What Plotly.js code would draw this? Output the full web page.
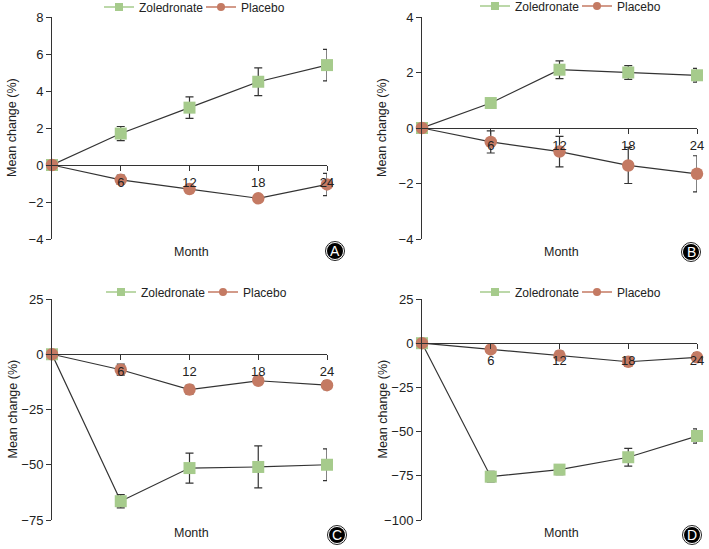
<!DOCTYPE html>
<html>
<head>
<meta charset="utf-8">
<script src="https://cdn.plot.ly/plotly-3.0.1.min.js"></script>
<style>html,body{margin:0;padding:0;background:#fff;}#chart{width:709px;height:549px;}</style>
</head>
<body>
<div id="chart"></div>
<script>
// ---------- data ----------
const months = [0, 6, 12, 18, 24];
const monthTicks = [6, 12, 18, 24];
const seriesNames = ['Zoledronate', 'Placebo'];
const panelLetters = ['A', 'B', 'C', 'D'];

// Panel A
const zolA = [0, 1.7, 3.1, 4.5, 5.4];
const zolAErr = [0, 0.38, 0.58, 0.75, 0.85];
const plaA = [0, -0.8, -1.3, -1.8, -1.05];
const plaAErr = [0, 0.25, 0.2, 0.15, 0.6];
// Panel B
const zolB = [0, 0.9, 2.1, 2.0, 1.9];
const zolBErr = [0, 0.15, 0.32, 0.25, 0.25];
const plaB = [0, -0.5, -0.85, -1.35, -1.65];
const plaBErr = [0, 0.4, 0.55, 0.65, 0.65];
// Panel C
const zolC = [0, -66.5, -51.5, -51, -50];
const zolCErr = [0, 3, 6.8, 9.5, 7.2];
const plaC = [0, -7, -16, -12, -14];
const plaCErr = [0, 2.5, 2, 1.5, 2];
// Panel D
const zolD = [0, -75.5, -71.5, -64.5, -52.5];
const zolDErr = [0, 3, 2.8, 5, 4];
const plaD = [0, -3.5, -7, -10.5, -8];
const plaDErr = [0, 1.5, 2.5, 2.5, 2.5];

const yRanges = [[-4, 8], [-4, 4], [-75, 25], [-100, 25]];
const yDticks = [2, 2, 25, 25];

// ---------- styling ----------
const W = 709, H = 549;
const px = x => x / W;
const py = y => 1 - y / H;
const green = '#a6cb8c';
const brown = '#c47a63';
const dark = '#333333';
const FONT = 'Liberation Sans, Arial, Helvetica, sans-serif';

// plot areas in pixels [left, right, top, bottom]
const boxes = [
  [52, 327, 17, 239],
  [422, 697, 17, 239],
  [52, 327, 299, 520],
  [422, 697, 299, 520]
];
const legendPos = [[47, 7], [53, 6], [49, 292], [53, 292]];   // [offset from left, centre y]
const badgePos = [[335, 251], [691, 252], [337, 535], [692, 535]];
const panels = [
  [zolA, zolAErr, plaA, plaAErr],
  [zolB, zolBErr, plaB, plaBErr],
  [zolC, zolCErr, plaC, plaCErr],
  [zolD, zolDErr, plaD, plaDErr]
];

const traces = [];
const layout = {
  width: W, height: H,
  margin: {l: 0, r: 0, t: 0, b: 0, autoexpand: false},
  paper_bgcolor: '#fff', plot_bgcolor: 'rgba(0,0,0,0)',
  font: {family: FONT, size: 12, color: '#222'},
  showlegend: true,
  annotations: [], shapes: []
};

panels.forEach((p, i) => {
  const n = i + 1;
  const xa = n === 1 ? 'x' : 'x' + n;
  const ya = n === 1 ? 'y' : 'y' + n;
  const xKey = n === 1 ? 'xaxis' : 'xaxis' + n;
  const yKey = n === 1 ? 'yaxis' : 'yaxis' + n;
  const lg = n === 1 ? 'legend' : 'legend' + n;
  const [l, r, t, b] = boxes[i];
  const yDom = [py(b), py(t)];
  const yr = yRanges[i];
  const zeroPos = yDom[0] + (0 - yr[0]) / (yr[1] - yr[0]) * (yDom[1] - yDom[0]);

  layout[xKey] = {
    domain: [px(l), px(r)], range: [0, 24], anchor: 'free', position: zeroPos,
    showgrid: false, zeroline: false, showline: true, linecolor: dark, linewidth: 1,
    ticks: 'outside', ticklen: 5, tickcolor: dark, tickwidth: 1,
    tickvals: monthTicks, ticktext: monthTicks.map(String),
    tickfont: {size: 13, color: '#222'}, fixedrange: true, automargin: false
  };
  layout[yKey] = {
    domain: yDom, range: yr, anchor: xa, dtick: yDticks[i], tick0: 0,
    showgrid: false, zeroline: false, showline: true, linecolor: dark, linewidth: 1,
    ticks: 'outside', ticklen: 5, tickcolor: dark, tickwidth: 1,
    tickfont: {size: 13, color: '#222'}, fixedrange: true, automargin: false
  };

  const [zv, ze, pv, pe] = p;
  traces.push({
    x: months, y: zv, xaxis: xa, yaxis: ya, type: 'scatter', mode: 'lines+markers',
    name: seriesNames[0], showlegend: false, cliponaxis: false,
    line: {color: dark, width: 1.2},
    marker: {symbol: 'square', size: 12, color: green},
    error_y: {type: 'data', array: ze, visible: true, color: dark, thickness: 1.2, width: 4}
  });
  traces.push({
    x: months, y: pv, xaxis: xa, yaxis: ya, type: 'scatter', mode: 'lines+markers',
    name: seriesNames[1], showlegend: false, cliponaxis: false,
    line: {color: dark, width: 1.2},
    marker: {symbol: 'circle', size: 12.5, color: brown},
    error_y: {type: 'data', array: pe, visible: true, color: dark, thickness: 1.2, width: 4}
  });
  // legend entries (colored lines with small markers)
  [[seriesNames[0], green, 'square'], [seriesNames[1], brown, 'circle']].forEach(([nm, c, s]) => {
    traces.push({
      x: [null], y: [null], xaxis: xa, yaxis: ya, type: 'scatter', mode: 'lines+markers',
      name: nm, legend: lg, showlegend: true,
      line: {color: c, width: 1.5}, marker: {symbol: s, size: 8, color: c}
    });
  });

  const [lo, lc] = legendPos[i];
  layout[lg] = {
    orientation: 'h', x: px(l + lo), y: py(lc), xanchor: 'left', yanchor: 'middle',
    font: {size: 12, color: '#222'}, bgcolor: 'rgba(0,0,0,0)',
    itemclick: false, itemdoubleclick: false, tracegroupgap: 0,
    entrywidth: 57, entrywidthmode: 'pixels'
  };

  // axis titles
  layout.annotations.push({
    xref: 'paper', yref: 'paper', x: px(l - 40), y: (yDom[0] + yDom[1]) / 2,
    text: 'Mean change (%)', textangle: -90, showarrow: false,
    font: {size: 12.5, color: '#222'}, xanchor: 'center', yanchor: 'middle'
  });
  layout.annotations.push({
    xref: 'paper', yref: 'paper', x: px((l + r) / 2 + 2), y: py(b + 13),
    text: 'Month', showarrow: false, font: {size: 12.5, color: '#222'},
    xanchor: 'center', yanchor: 'middle'
  });

  // panel badge
  const [cx, cy] = badgePos[i];
  layout.shapes.push({
    type: 'circle', xref: 'paper', yref: 'paper',
    x0: px(cx - 9.5), x1: px(cx + 9.5), y0: py(cy + 9.5), y1: py(cy - 9.5),
    fillcolor: '#ffffff', line: {color: '#222', width: 1}
  });
  layout.shapes.push({
    type: 'circle', xref: 'paper', yref: 'paper',
    x0: px(cx - 8), x1: px(cx + 8), y0: py(cy + 8), y1: py(cy - 8),
    fillcolor: '#000', line: {width: 0}
  });
  layout.annotations.push({
    xref: 'paper', yref: 'paper', x: px(cx), y: py(cy),
    text: panelLetters[i], showarrow: false,
    font: {size: 14, color: '#fff', family: FONT},
    xanchor: 'center', yanchor: 'middle'
  });
});

Plotly.newPlot('chart', traces, layout, {displayModeBar: false, staticPlot: true});
</script>
</body>
</html>
